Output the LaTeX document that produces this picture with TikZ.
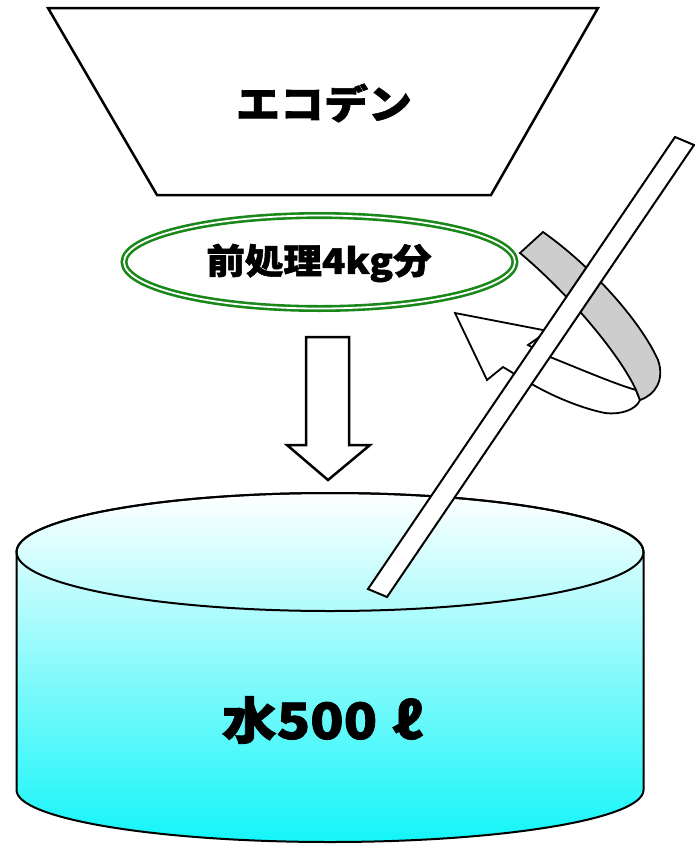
\documentclass[tikz,border=0pt]{standalone}
\usepackage{fontspec}
\newfontfamily\jp{Noto Sans CJK JP}[BoldFeatures={FakeBold=1.6,FakeStretch=1.1}]
\definecolor{tankbot}{RGB}{20,245,248}
\definecolor{ringgreen}{RGB}{25,135,25}
\definecolor{bandgray}{RGB}{205,205,205}
\tikzset{
  outline/.style={draw=black, line width=2.2, fill=white, line join=miter},
  label/.style={font=\jp\bfseries, text=black, inner sep=0pt}
}
\begin{document}
\begin{tikzpicture}[x=1pt,y=1pt,yscale=-1]
\useasboundingbox (0,0) rectangle (695,844);
% tank
\shade[top color=white, bottom color=tankbot, draw=black, line width=2]
  (16.5,552) -- (16.5,790) arc[start angle=180,end angle=0,x radius=313.5,y radius=52]
  -- (643.5,552) arc[start angle=0,end angle=-180,x radius=313.5,y radius=59] -- cycle;
\draw[line width=2] (330,552) ellipse[x radius=313.5, y radius=59];
\node[label, font=\jp\bfseries\fontsize{50}{50}\selectfont] (water) at (322,720) {水500\hspace{0.3em}ℓ};
% hopper
\path[outline, line width=2.5] (48,8) -- (598,8) -- (491,195) -- (157,195) -- cycle;
\node[label, font=\jp\bfseries\fontsize{40}{40}\selectfont] (ecoden) at (324,103) {エコデン};
% ring
\draw[ringgreen, line width=2.6, double=white, double distance=1.8] (319.5,262) ellipse[x radius=195.5, y radius=46.5];
\node[label, font=\jp\bfseries\fontsize{35}{35}\selectfont] (pre) at (319,263) {前処理4kg分};
% down arrow
\path[outline, line width=2.5] (306,337) -- (349,337) -- (349,445) -- (370,445) -- (328,480) -- (287,445) -- (306,445) -- cycle;
% rotation ribbon
\path[outline, line width=1.8] (455,313) -- (548,331) -- (528,345) -- (550,357)
  .. controls (580,369) and (615,384) .. (636,390) -- (640,400)
  .. controls (636,410) and (620,415) .. (605,413)
  .. controls (580,408) and (550,395) .. (530,383) -- (513,373) -- (503,367) -- (487,380) -- cycle;
\path[outline, line width=1.8, fill=bandgray] (520,253) -- (543,232)
  .. controls (590,265) and (640,320) .. (658,360)
  .. controls (665,380) and (655,395) .. (640,400) -- (636,390)
  .. controls (620,355) and (570,295) .. (520,253) -- cycle;
% rod
\path[outline, line width=2] (675,137) -- (694,145) -- (387,597) -- (368,589) -- cycle;
\end{tikzpicture}
\end{document}
